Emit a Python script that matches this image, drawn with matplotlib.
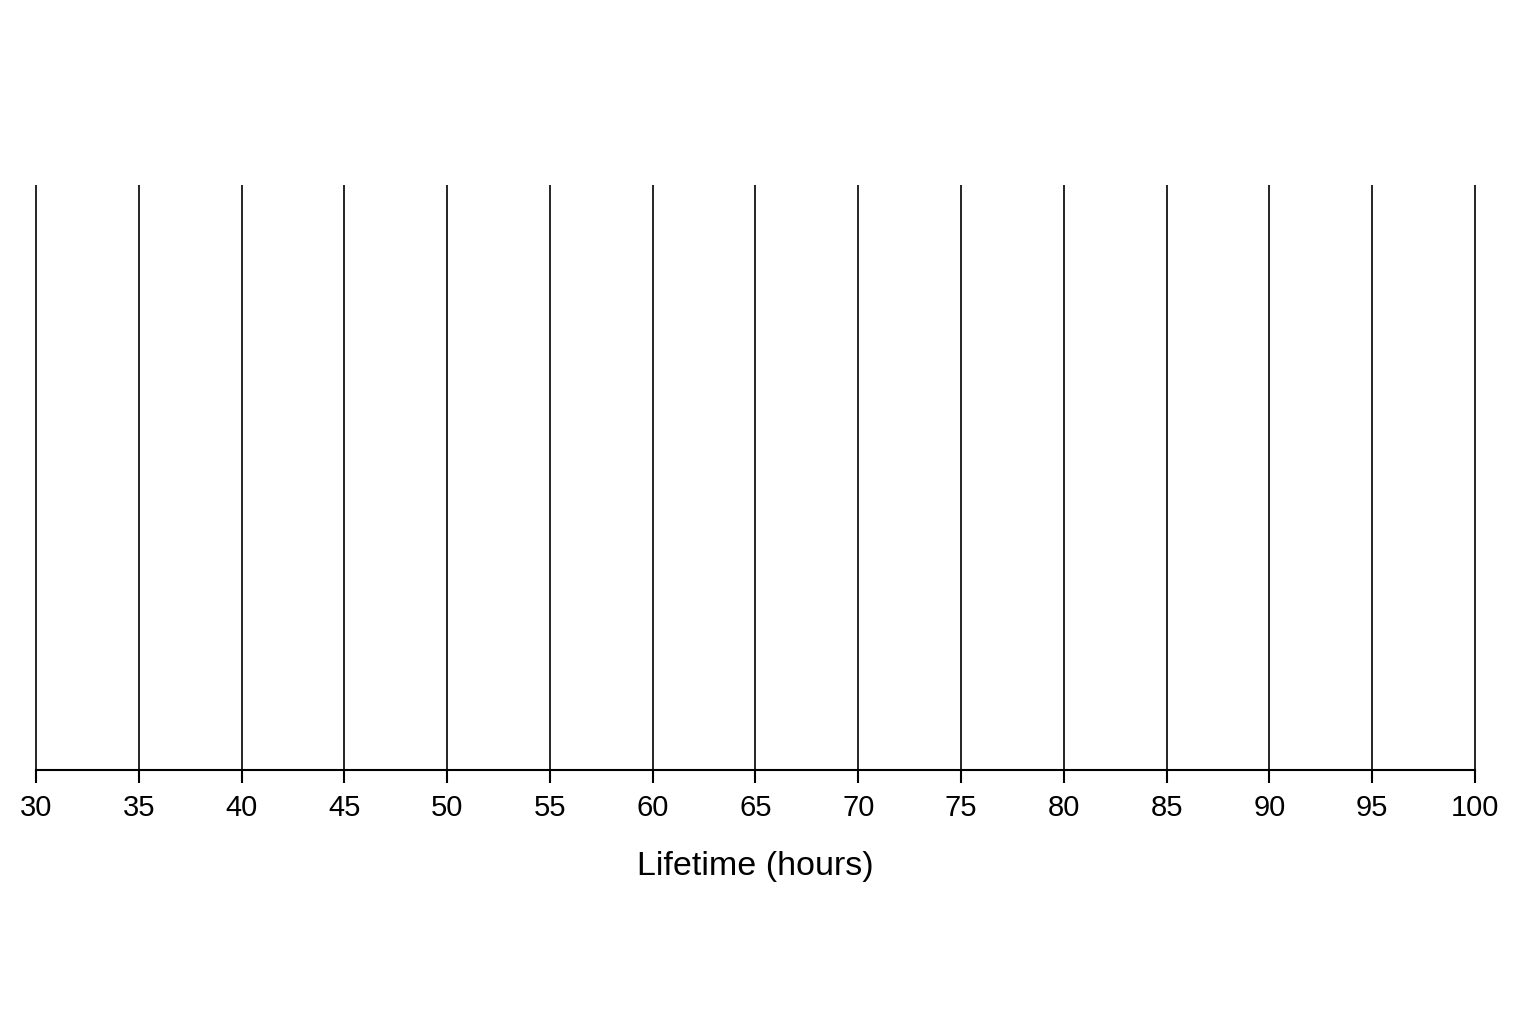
import matplotlib.pyplot as plt

plt.rcParams['font.family'] = ['Liberation Sans', 'DejaVu Sans']

lifetimes = [30, 35, 40, 45, 50, 55, 60, 65, 70, 75, 80, 85, 90, 95, 100]
ticks = [30, 35, 40, 45, 50, 55, 60, 65, 70, 75, 80, 85, 90, 95, 100]

fig = plt.figure(figsize=(15.36, 10.24), dpi=100)
ax = fig.add_axes([0.0234, 0.248, 0.9369, 0.571])

ax.vlines(lifetimes, 0, 1, color='black', linewidth=1.2, clip_on=False)
ax.set_xlim(30, 100)
ax.set_ylim(0, 1)

for s in ['top', 'left', 'right']:
    ax.spines[s].set_visible(False)
ax.spines['bottom'].set_linewidth(1.5)
ax.set_yticks([])
ax.set_xticks(ticks)
ax.tick_params(axis='x', length=9, width=1.5, labelsize=21, pad=8)
ax.set_xlabel("Lifetime (hours)", fontsize=24.5, labelpad=21)

fig.savefig("out.png", dpi=100)
